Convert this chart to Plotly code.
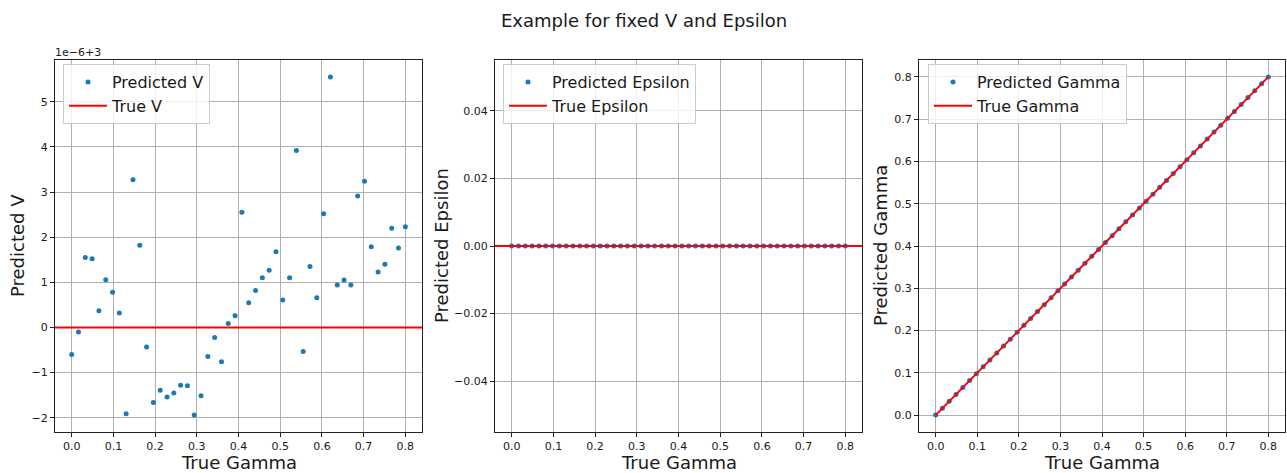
import numpy as np
import plotly.graph_objects as go

# ---------------- data ----------------
true_gamma = np.linspace(0, 0.8, 50)
# predicted V offsets in units of 1e-6 (relative to 3)
v_offset = [-0.60, -0.10, 1.55, 1.52, 0.37, 1.06, 0.78, 0.32, -1.91, 3.27,
            1.82, -0.43, -1.66, -1.39, -1.54, -1.45, -1.28, -1.29, -1.94, -1.51,
            -0.64, -0.22, -0.76, 0.09, 0.26, 2.55, 0.55, 0.82, 1.10, 1.27,
            1.68, 0.61, 1.10, 3.92, -0.53, 1.35, 0.66, 2.52, 5.55, 0.94,
            1.05, 0.94, 2.91, 3.24, 1.79, 1.23, 1.40, 2.20, 1.76, 2.23]
v_base = 3.0
v_scale = 1e-6
true_v = 3.0
pred_eps = [0.0] * 50
true_eps = 0.0
pred_gamma = list(true_gamma)

v_ticks = [-2, -1, 0, 1, 2, 3, 4, 5]
gamma_ticks = [0.0, 0.1, 0.2, 0.3, 0.4, 0.5, 0.6, 0.7, 0.8]
eps_ticks = [-0.04, -0.02, 0.0, 0.02, 0.04]

pred_v = [v_base + o * v_scale for o in v_offset]

W, H = 1287, 473
BLUE = "#1f77b4"
RED = "#ff0000"
FONT = "DejaVu Sans"
TXT = "#1a1a1a"

def px_x(p):
    return p / W

def px_y(p):
    return 1 - p / H

fig = go.Figure()

# panel pixel boxes (left, right)
panels = [(55, 422), (495, 862), (919, 1285)]
top, bottom = 60, 432

# Left: V
fig.add_trace(go.Scatter(x=true_gamma, y=pred_v, mode="markers",
                         marker=dict(color=BLUE, size=5), name="Predicted V",
                         xaxis="x", yaxis="y", legend="legend"))
fig.add_trace(go.Scatter(x=[-0.04, 0.84], y=[true_v, true_v], mode="lines",
                         line=dict(color=RED, width=2), name="True V",
                         xaxis="x", yaxis="y", legend="legend"))
# Middle: Epsilon
fig.add_trace(go.Scatter(x=true_gamma, y=pred_eps, mode="markers",
                         marker=dict(color=BLUE, size=5), name="Predicted Epsilon",
                         xaxis="x2", yaxis="y2", legend="legend2"))
fig.add_trace(go.Scatter(x=[-0.04, 0.84], y=[true_eps, true_eps], mode="lines",
                         line=dict(color=RED, width=2), name="True Epsilon",
                         xaxis="x2", yaxis="y2", legend="legend2"))
# Right: Gamma
fig.add_trace(go.Scatter(x=true_gamma, y=pred_gamma, mode="markers",
                         marker=dict(color=BLUE, size=5), name="Predicted Gamma",
                         xaxis="x3", yaxis="y3", legend="legend3"))
fig.add_trace(go.Scatter(x=true_gamma, y=true_gamma, mode="lines",
                         line=dict(color=RED, width=2), name="True Gamma",
                         xaxis="x3", yaxis="y3", legend="legend3"))

axis_common = dict(showline=True, linecolor="#222222", linewidth=1, mirror=True,
                   showgrid=True, gridcolor="#b0b0b0", gridwidth=1,
                   ticks="outside", ticklen=4, tickcolor="#222222",
                   tickfont=dict(family=FONT, size=11, color=TXT),
                   zeroline=False)

ydom = [px_y(bottom), px_y(top)]
gx = dict(tickmode="array", tickvals=gamma_ticks,
          ticktext=[f"{t:.1f}" for t in gamma_ticks], range=[-0.04, 0.84])

fig.update_layout(
    width=W, height=H,
    margin=dict(l=0, r=0, t=0, b=0),
    paper_bgcolor="white", plot_bgcolor="white",
    font=dict(family=FONT, color=TXT),
    xaxis=dict(domain=[px_x(panels[0][0]), px_x(panels[0][1])], anchor="y", **gx, **axis_common),
    yaxis=dict(domain=ydom, anchor="x", range=[v_base - 2.315e-6, v_base + 5.925e-6],
               tickmode="array", tickvals=[v_base + t * v_scale for t in v_ticks],
               ticktext=[str(t).replace("-", "\u2212") for t in v_ticks], **axis_common),
    xaxis2=dict(domain=[px_x(panels[1][0]), px_x(panels[1][1])], anchor="y2", **gx, **axis_common),
    yaxis2=dict(domain=ydom, anchor="x2", range=[-0.055, 0.055],
                tickmode="array", tickvals=eps_ticks,
                ticktext=[f"{t:.2f}".replace("-", "\u2212") for t in eps_ticks], **axis_common),
    xaxis3=dict(domain=[px_x(panels[2][0]), px_x(panels[2][1])], anchor="y3", **gx, **axis_common),
    yaxis3=dict(domain=ydom, anchor="x3", range=[-0.04, 0.84],
                tickmode="array", tickvals=gamma_ticks,
                ticktext=[f"{t:.1f}" for t in gamma_ticks], **axis_common),
    showlegend=True,
)

leg_common = dict(bgcolor="rgba(255,255,255,0.8)", bordercolor="#cccccc", borderwidth=1,
                  font=dict(family=FONT, size=16, color=TXT),
                  xanchor="left", yanchor="top", itemwidth=38, tracegroupgap=0)
fig.update_layout(
    legend=dict(x=px_x(63), y=px_y(64), **leg_common),
    legend2=dict(x=px_x(503), y=px_y(64), **leg_common),
    legend3=dict(x=px_x(928), y=px_y(64), **leg_common),
)

ann = []
ann.append(dict(text="Example for fixed V and Epsilon", x=0.5, y=px_y(20), xref="paper", yref="paper",
                showarrow=False, font=dict(family=FONT, size=18, color=TXT),
                xanchor="center", yanchor="middle"))
ann.append(dict(text="1e\u22126+3", x=px_x(53), y=px_y(61), xref="paper", yref="paper",
                showarrow=False, font=dict(family=FONT, size=11, color=TXT),
                xanchor="left", yanchor="bottom"))
for (l, r) in panels:
    ann.append(dict(text="True Gamma", x=px_x((l + r) / 2), y=px_y(462), xref="paper", yref="paper",
                    showarrow=False, font=dict(family=FONT, size=18, color=TXT),
                    xanchor="center", yanchor="middle"))
ylabels = [("Predicted V", 17), ("Predicted Epsilon", 441), ("Predicted Gamma", 880)]
for txt, xp in ylabels:
    ann.append(dict(text=txt, x=px_x(xp), y=px_y((top + bottom) / 2), xref="paper", yref="paper",
                    showarrow=False, textangle=-90, font=dict(family=FONT, size=18, color=TXT),
                    xanchor="center", yanchor="middle"))
fig.update_layout(annotations=ann)

fig.write_html("out.html")
